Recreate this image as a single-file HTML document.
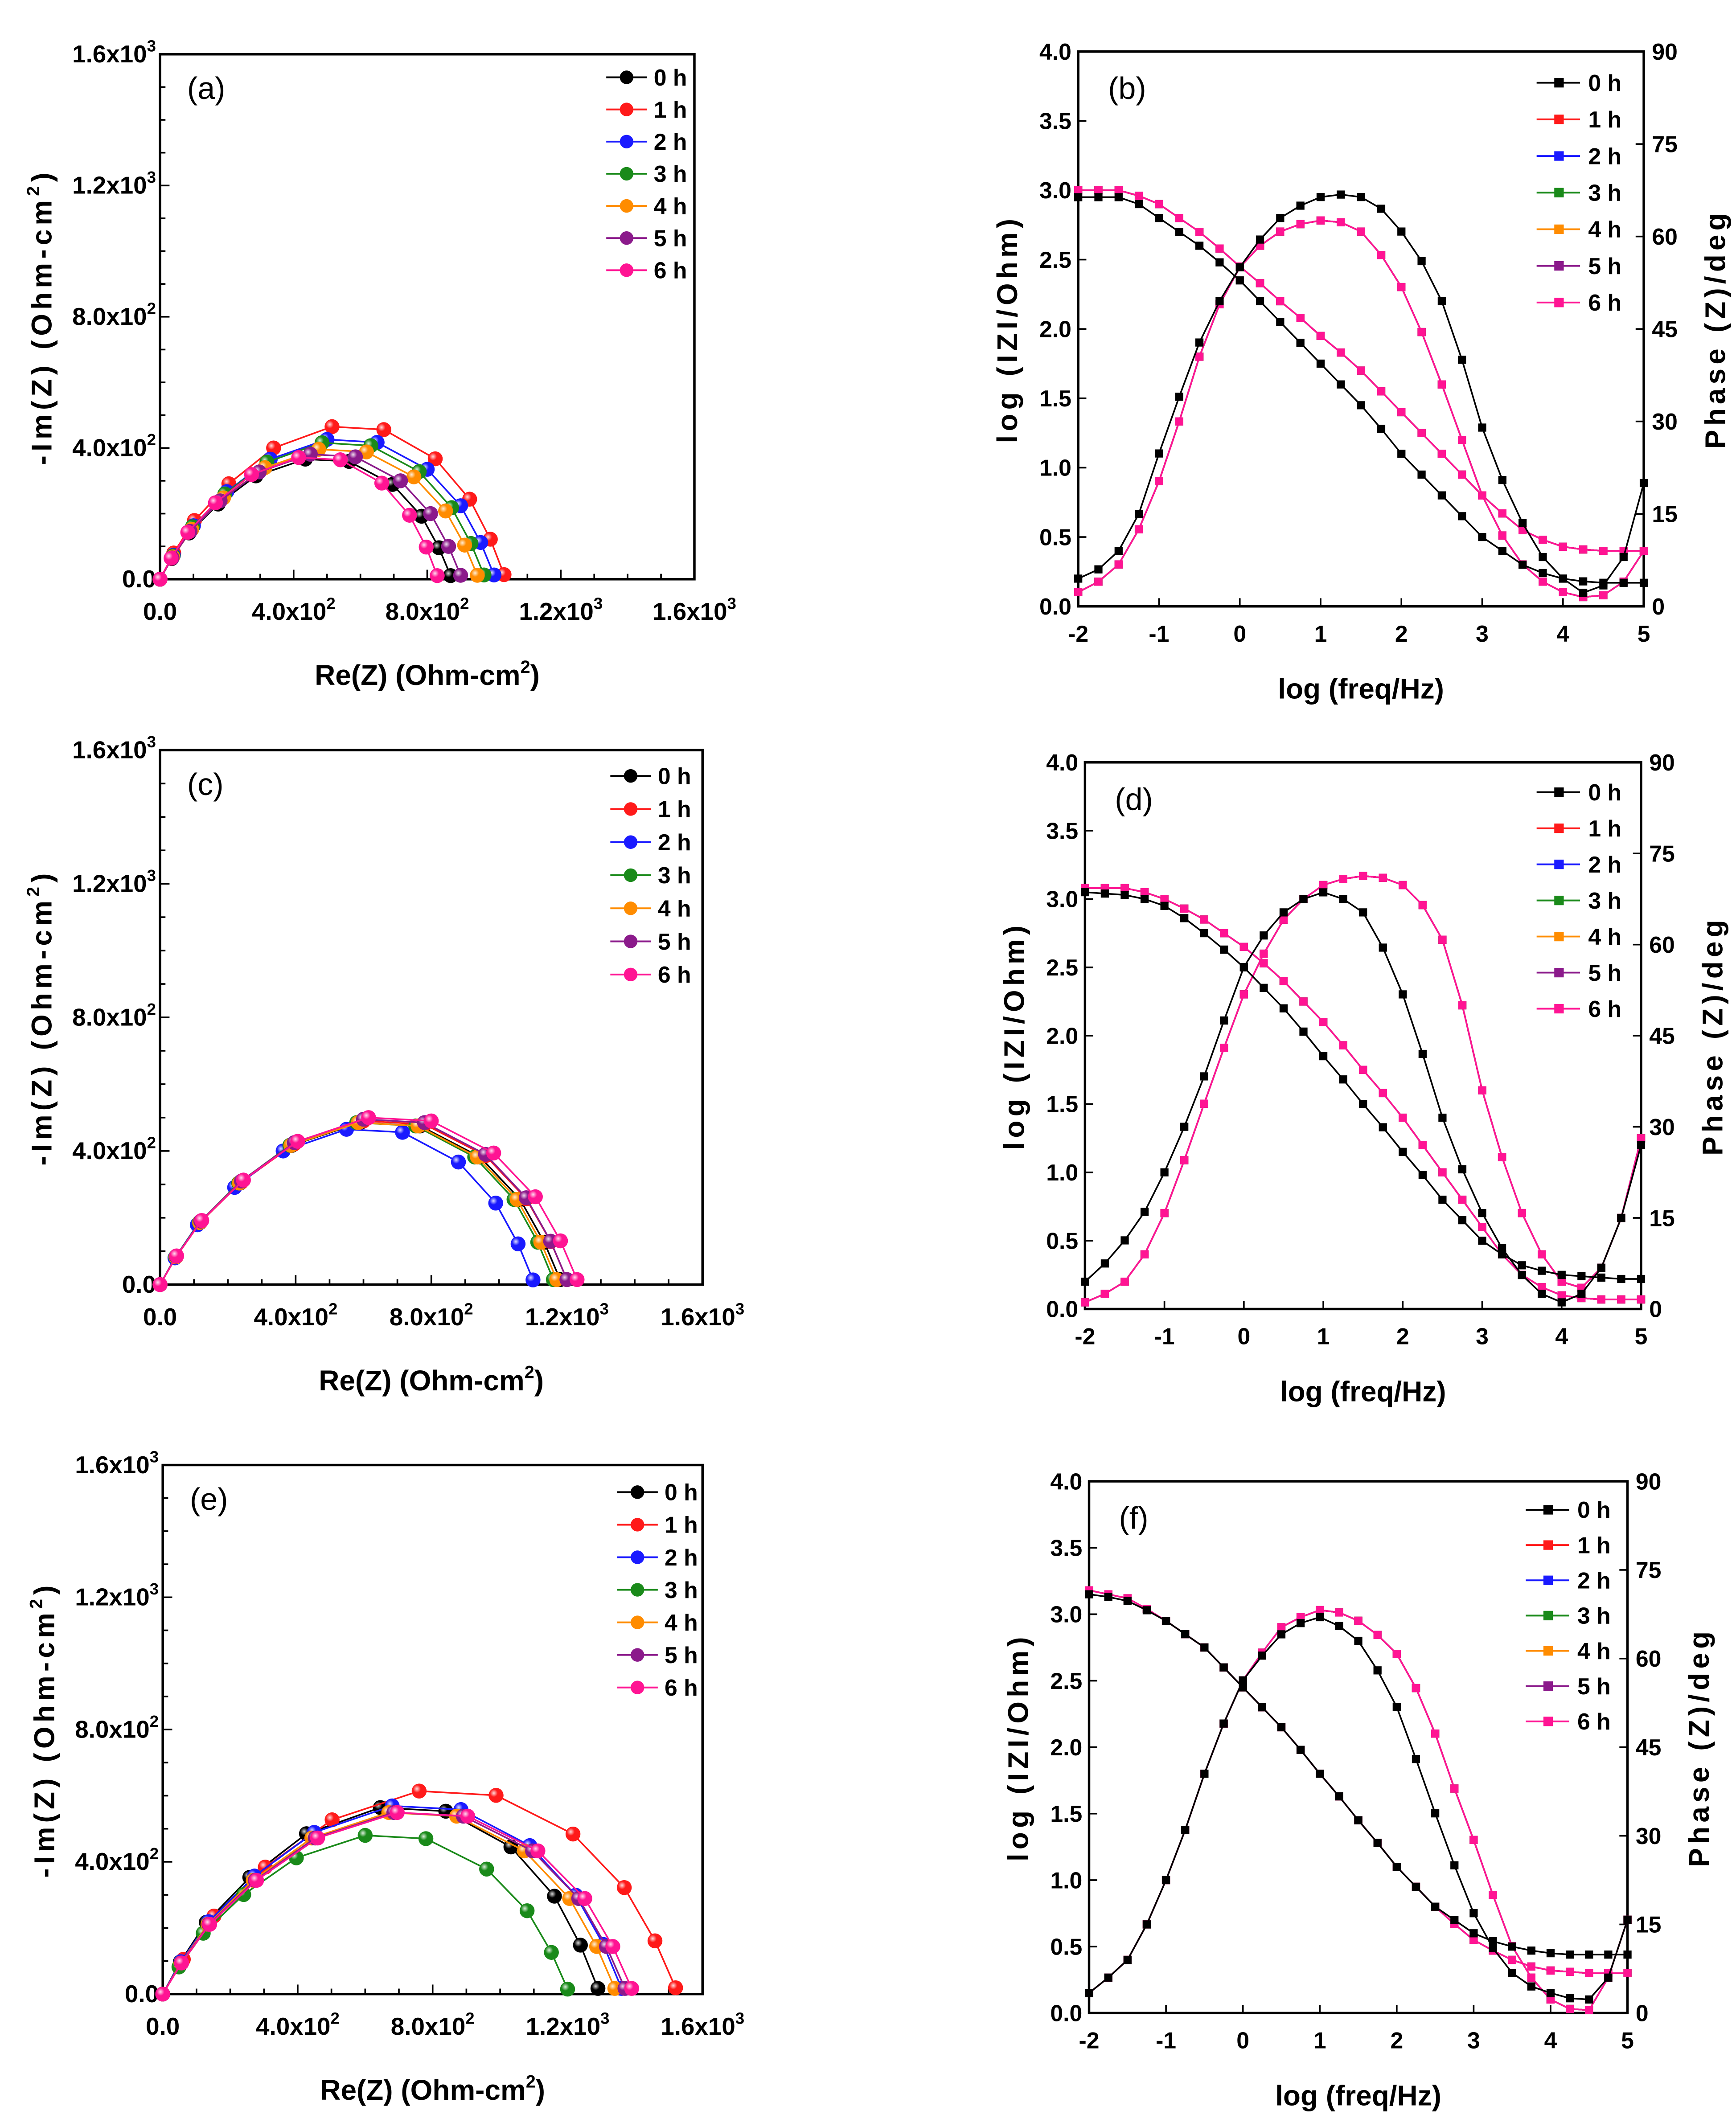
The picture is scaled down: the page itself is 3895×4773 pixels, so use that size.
<!DOCTYPE html>
<html><head><meta charset="utf-8"><style>
html,body{margin:0;padding:0;background:#fff}
svg{display:block}
text{font-family:"Liberation Sans Narrow","Liberation Sans",sans-serif}
</style></head><body>
<svg id="fig" width="3895" height="4773" viewBox="0 0 1280 1568" preserveAspectRatio="none" xmlns="http://www.w3.org/2000/svg">
<defs>
<radialGradient id="shine" cx="0.35" cy="0.35" r="0.65"><stop offset="0" stop-color="#fff" stop-opacity="0.85"/><stop offset="0.4" stop-color="#fff" stop-opacity="0"/></radialGradient>
</defs>
</svg>
<script>
const seriesNames = ["0 h","1 h","2 h","3 h","4 h","5 h","6 h"];
const seriesColors = ["#000000","#ff1a1a","#1a1aff","#1a8a1a","#ff8c00","#8b1a8b","#ff1493"];
const nyqTicks = [0,400,800,1200,1600];
const nyqTickMant = ["0.0","4.0x10","8.0x10","1.2x10","1.6x10"];
const nyqTickExp = ["","2","2","3","3"];

// Nyquist (a)
const aRe = [
 [0,35,87,174,287,435,566,696,783,835,870],
 [0,41,103,206,340,515,670,824,927,989,1030],
 [0,40,100,200,330,500,650,800,900,960,1000],
 [0,39,97,194,320,485,631,776,873,931,970],
 [0,38,95,190,314,475,618,760,855,912,950],
 [0,36,90,180,297,450,585,720,810,864,900],
 [0,33,83,166,274,415,540,664,747,797,830]];
const aIm = [
 [0,63,141,229,315,366,359,289,192,96,11],
 [0,80,179,291,400,465,456,367,244,122,14],
 [0,73,163,267,366,426,417,335,224,112,13],
 [0,71,160,260,357,416,407,328,218,109,13],
 [0,68,152,248,340,396,388,312,208,104,12],
 [0,65,146,239,327,381,373,300,200,100,12],
 [0,64,143,233,319,371,364,293,195,98,11]];
// Nyquist (c)
const cRe = [
 [0,47,118,236,389,590,767,944,1062,1133,1180],
 [0,48,120,240,396,600,780,960,1080,1152,1200],
 [0,44,110,220,363,550,715,880,990,1056,1100],
 [0,46,116,232,383,580,754,928,1044,1114,1160],
 [0,47,117,234,386,585,761,936,1053,1123,1170],
 [0,48,120,240,396,600,780,960,1080,1152,1200],
 [0,49,123,246,406,615,800,984,1107,1181,1230]];
const cIm = [
 [0,83,186,304,417,485,475,382,255,127,15],
 [0,84,188,307,421,490,480,386,257,129,15],
 [0,80,179,291,400,465,456,367,244,122,14],
 [0,83,186,304,417,485,475,382,255,127,15],
 [0,83,186,304,417,485,475,382,255,127,15],
 [0,85,190,310,425,495,485,390,260,130,15],
 [0,86,192,313,429,500,490,394,263,131,15]];
// Nyquist (e)
const eRe = [
 [0,52,129,258,426,645,839,1032,1161,1238,1290],
 [0,61,152,304,502,760,988,1216,1368,1459,1520],
 [0,54,136,272,449,680,884,1088,1224,1306,1360],
 [0,48,120,240,396,600,780,960,1080,1152,1200],
 [0,54,134,268,442,670,871,1072,1206,1286,1340],
 [0,55,137,274,452,685,891,1096,1233,1315,1370],
 [0,56,139,278,459,695,904,1112,1251,1334,1390]];
const eIm = [
 [0,97,217,353,485,564,553,445,296,148,17],
 [0,105,236,384,527,614,601,484,322,161,19],
 [0,98,219,357,489,569,558,449,299,150,17],
 [0,82,184,301,412,480,470,378,252,126,15],
 [0,94,211,344,472,549,538,433,289,144,17],
 [0,94,211,344,472,549,538,433,289,144,17],
 [0,94,211,344,472,549,538,433,289,144,17]];

// Bode
const logf = [-2,-1.75,-1.5,-1.25,-1,-0.75,-0.5,-0.25,0,0.25,0.5,0.75,1,1.25,1.5,1.75,2,2.25,2.5,2.75,3,3.25,3.5,3.75,4,4.25,4.5,4.75,5];
const bodeXTicks = [-2,-1,0,1,2,3,4,5];
const bodeLTicks = [0,0.5,1,1.5,2,2.5,3,3.5,4];
const bodeRTicks = [0,15,30,45,60,75,90];
// (b)
const bMag0 = [2.95,2.95,2.95,2.9,2.8,2.7,2.6,2.48,2.35,2.2,2.05,1.9,1.75,1.6,1.45,1.28,1.1,0.95,0.8,0.65,0.5,0.4,0.3,0.24,0.2,0.18,0.17,0.17,0.17];
const bMagX = [3.0,3.0,3.0,2.96,2.9,2.8,2.7,2.58,2.45,2.33,2.2,2.08,1.95,1.83,1.7,1.55,1.4,1.25,1.1,0.95,0.8,0.67,0.55,0.48,0.43,0.41,0.4,0.4,0.4];
const bPh0 = [4.5,6,9,15,24.8,34,42.8,49.5,55,59.5,63,65,66.4,66.8,66.4,64.5,60.8,56,49.5,40,29,20.5,13.5,8,4.5,2.2,3.4,8,20];
const bPhX = [2.3,4,6.8,12.5,20.3,30,40.5,49,55,58.5,60.8,62,62.6,62.3,60.8,57,51.8,44.5,36,27,18,11.5,6.8,4,2.3,1.5,1.8,4,9];
// (d)
const dMag0 = [3.05,3.04,3.03,3.0,2.95,2.86,2.75,2.63,2.5,2.35,2.2,2.03,1.85,1.68,1.5,1.33,1.15,0.98,0.8,0.65,0.5,0.4,0.32,0.28,0.25,0.24,0.23,0.22,0.22];
const dMagX = [3.08,3.08,3.08,3.05,3.0,2.93,2.85,2.75,2.65,2.53,2.4,2.25,2.1,1.93,1.75,1.58,1.4,1.2,1.0,0.8,0.6,0.4,0.25,0.16,0.1,0.08,0.07,0.07,0.07];
const dPh0 = [4.5,7.5,11.3,16,22.5,30,38.3,47.5,56.3,61.5,65.3,67.5,68.6,67.5,65.3,59.5,51.8,42,31.5,23,15.8,10,5.6,2.5,1.1,2.5,6.8,15,27];
const dPhX = [1.1,2.5,4.5,9,15.8,24.5,33.8,43,51.8,58.5,64.1,67.5,69.8,70.8,71.3,71,69.8,66.5,60.8,50,36,25,15.8,9,4.5,3.5,6.8,15,28.1];
// (f)
const fMag0 = [3.15,3.13,3.1,3.03,2.95,2.85,2.75,2.6,2.45,2.3,2.15,1.98,1.8,1.63,1.45,1.28,1.1,0.95,0.8,0.7,0.6,0.54,0.5,0.47,0.45,0.44,0.44,0.44,0.44];
const fMagX = [3.18,3.15,3.12,3.04,2.95,2.85,2.75,2.6,2.45,2.3,2.15,1.98,1.8,1.63,1.45,1.28,1.1,0.95,0.8,0.67,0.55,0.47,0.4,0.35,0.32,0.31,0.3,0.3,0.3];
const fPh0 = [3.4,6,9,15,22.5,31,40.5,49,56.3,60.5,64.1,66,67,65.5,63,58,51.8,43,33.8,25,16.9,11,6.8,4.5,3.4,2.5,2.3,6,15.8];
const fPhX = [3.4,6,9,15,22.5,31,40.5,49,56.3,61,65.3,67,68.2,67.8,66.4,64,60.8,55,47.3,38,29.3,20,11.3,6,2.3,0.7,0.5,6,15.8];

const svg = document.getElementById('fig');
const NS = "http://www.w3.org/2000/svg";
function mk(tag, attrs, parent){
  const e = document.createElementNS(NS, tag);
  for (const k in attrs) e.setAttribute(k, attrs[k]);
  (parent||svg).appendChild(e);
  return e;
}
function txt(s, x, y, size, anchor, parent, weight){
  const t = mk('text', {x:x, y:y, 'font-size':size, 'text-anchor':anchor||'middle', 'font-weight':weight||'bold', fill:'#000'}, parent);
  t.textContent = s;
  return t;
}
function sciLabel(m, ex, x, y, anchor, g){
  const t = mk('text', {x:x, y:y, 'font-size':18, 'text-anchor':anchor, 'font-weight':'bold', fill:'#000'}, g);
  
  
  t.appendChild(document.createTextNode(m));
  if (ex){ const s = mk('tspan', {dy:-8, 'font-size':12}, t); s.textContent = ex; }
  return t;
}

function nyquist(id, letter, box, re, im, leg){
  const g = mk('g', {});
  
  
  const [x0,y0,x1,y1] = box;
  const sx = v => x0 + v/1600*(x1-x0);
  const sy = v => y1 - v/1600*(y1-y0);
  const fr = mk('rect', {x:x0, y:y0, width:x1-x0, height:y1-y0, fill:'none', stroke:'#000', 'stroke-width':1.8}, g);
  
  
  for (let i=0;i<=16;i++){
    const v = i*100, L = (i%4===0)?7:4;
    mk('line', {x1:x0, y1:sy(v), x2:x0+L, y2:sy(v), stroke:'#000', 'stroke-width':1.2}, g);
    mk('line', {x1:sx(v), y1:y1, x2:sx(v), y2:y1-L, stroke:'#000', 'stroke-width':1.2}, g);
  }
  nyqTicks.forEach((v,i)=>{
    sciLabel(nyqTickMant[i], nyqTickExp[i], x0-3, sy(v)+6, 'end', g);
    sciLabel(nyqTickMant[i], nyqTickExp[i], sx(v), y1+30, 'middle', g);
  });
  const xt = mk('text', {x:(x0+x1)/2, y:y1+78, 'font-size':21, 'text-anchor':'middle', 'font-weight':'bold'}, g);
  
  
  xt.appendChild(document.createTextNode('Re(Z) (Ohm-cm'));
  const sp = mk('tspan', {dy:-9, 'font-size':13}, xt); sp.textContent='2';
  const sp2 = mk('tspan', {dy:9}, xt); sp2.textContent=')';
  const yt = mk('text', {x:0, y:0, 'font-size':21, 'text-anchor':'middle', 'font-weight':'bold', 'letter-spacing':'3', transform:`translate(${x0-80},${(y0+y1)/2}) rotate(-90)`}, g);
  
  
  yt.appendChild(document.createTextNode('-Im(Z) (Ohm-cm'));
  const sp3 = mk('tspan', {dy:-9, 'font-size':13}, yt); sp3.textContent='2';
  const sp4 = mk('tspan', {dy:9}, yt); sp4.textContent=')';
  const pl = mk('text', {x:x0+20, y:y0+33, 'font-size':23, 'text-anchor':'start', 'font-family':'Liberation Serif, serif'}, g);
  
  
  pl.textContent = '(' + letter + ')';
  re.forEach((xs, s)=>{
    const sg = mk('g', {}, g);
    
    
    const pts = xs.map((x,i)=>sx(x)+','+sy(im[s][i])).join(' ');
    const ln = mk('polyline', {points:pts, fill:'none', stroke:seriesColors[s], 'stroke-width':1.2}, sg);
    
    
    xs.forEach((x,i)=>{
      const c = mk('circle', {cx:sx(x), cy:sy(im[s][i]), r:5.5, fill:seriesColors[s]}, sg);
      
      
      mk('circle', {cx:sx(x), cy:sy(im[s][i]), r:5.5, fill:'url(#shine)'}, sg);
    });
  });
  seriesNames.forEach((n,s)=>{
    const ly = leg[1] + s*leg[2];
    const lg = mk('g', {}, g);
    
    
    mk('line', {x1:leg[0], y1:ly, x2:leg[0]+30, y2:ly, stroke:seriesColors[s], 'stroke-width':1.3}, lg);
    mk('circle', {cx:leg[0]+15, cy:ly, r:5, fill:seriesColors[s]}, lg);
    txt(n, leg[0]+35, ly+6, 17, 'start', lg);
  });
}

function bode(letter, box, mag0, magX, ph0, phX, leg){
  const g = mk('g', {});
  
  
  const [x0,y0,x1,y1] = box;
  const sx = v => x0 + (v+2)/7*(x1-x0);
  const sy = v => y1 - v/4*(y1-y0);
  const sp = v => y1 - v/90*(y1-y0);
  const fr = mk('rect', {x:x0, y:y0, width:x1-x0, height:y1-y0, fill:'none', stroke:'#000', 'stroke-width':1.8}, g);
  
  
  bodeLTicks.forEach(v=>{
    mk('line', {x1:x0, y1:sy(v), x2:x0+6, y2:sy(v), stroke:'#000', 'stroke-width':1.2}, g);
    const t = txt(v.toFixed(1), x0-5, sy(v)+6, 17, 'end', g);
    
    
  });
  bodeRTicks.forEach(v=>{
    mk('line', {x1:x1, y1:sp(v), x2:x1-6, y2:sp(v), stroke:'#000', 'stroke-width':1.2}, g);
    const t = txt(String(v), x1+6, sp(v)+6, 17, 'start', g);
    
    
  });
  bodeXTicks.forEach(v=>{
    mk('line', {x1:sx(v), y1:y1, x2:sx(v), y2:y1-6, stroke:'#000', 'stroke-width':1.2}, g);
    const t = txt(String(v), sx(v), y1+26, 17, 'middle', g);
    
    
  });
  const xt = txt('log (freq/Hz)', (x0+x1)/2, y1+68, 21, 'middle', g);
  
  
  const yl = mk('text', {x:0,y:0,'font-size':21,'text-anchor':'middle','font-weight':'bold','letter-spacing':'3',transform:`translate(${x0-45},${(y0+y1)/2}) rotate(-90)`}, g);
  
  
  yl.textContent = 'log (IZI/Ohm)';
  const yr = mk('text', {x:0,y:0,'font-size':21,'text-anchor':'middle','font-weight':'bold','letter-spacing':'3',transform:`translate(${x1+60},${(y0+y1)/2}) rotate(-90)`}, g);
  
  
  yr.textContent = 'Phase (Z)/deg';
  const pl = mk('text', {x:x0+22, y:y0+35, 'font-size':23, 'text-anchor':'start', 'font-family':'Liberation Serif, serif'}, g);
  
  
  pl.textContent = '(' + letter + ')';
  function draw(vals, s, yfn, kind){
    const sg = mk('g', {}, g);
    
    
    const pts = logf.map((f,i)=>sx(f)+','+yfn(vals[i])).join(' ');
    const ln = mk('polyline', {points:pts, fill:'none', stroke:seriesColors[s], 'stroke-width':1.2}, sg);
    
    
    logf.forEach((f,i)=>{
      const r = mk('rect', {x:sx(f)-3, y:yfn(vals[i])-3, width:6, height:6, fill:seriesColors[s]}, sg);
      
      
    });
  }
  for (let s=1;s<7;s++){ draw(magX, s, sy, 'magnitude'); draw(phX, s, sp, 'phase'); }
  draw(mag0, 0, sy, 'magnitude'); draw(ph0, 0, sp, 'phase');
  seriesNames.forEach((n,s)=>{
    const ly = leg[1] + s*leg[2];
    const lg = mk('g', {}, g);
    
    
    mk('line', {x1:leg[0], y1:ly, x2:leg[0]+32, y2:ly, stroke:seriesColors[s], 'stroke-width':1.3}, lg);
    mk('rect', {x:leg[0]+13, y:ly-3.5, width:7, height:7, fill:seriesColors[s]}, lg);
    txt(n, leg[0]+38, ly+6, 17, 'start', lg);
  });
}

nyquist('a','a',[118,40,512,427],aRe,aIm,[447,57,23.7]);
nyquist('c','c',[118,553,518,947],cRe,cIm,[450,572,24.4]);
nyquist('e','e',[120,1080,518,1470],eRe,eIm,[455,1100,24]);
bode('b',[795,38,1212,447],bMag0,bMagX,bPh0,bPhX,[1133,61,27]);
bode('d',[800,562,1210,965],dMag0,dMagX,dPh0,dPhX,[1133,584,26.6]);
bode('f',[803,1092,1200,1484],fMag0,fMagX,fPh0,fPhX,[1125,1113,26]);
</script>
</body></html>
